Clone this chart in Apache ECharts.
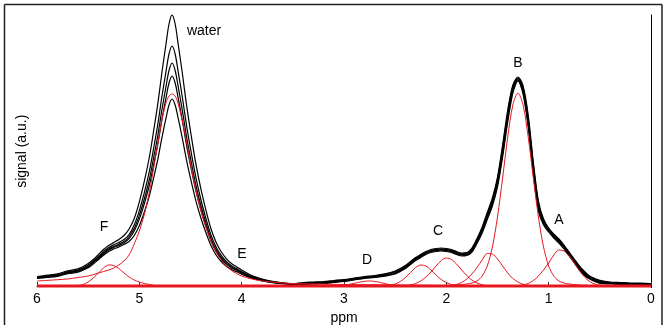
<!DOCTYPE html>
<html><head><meta charset="utf-8">
<script src="https://cdn.jsdelivr.net/npm/echarts@6/dist/echarts.min.js"></script>
<style>html,body{margin:0;padding:0;background:#fff}#c{width:665px;height:325px}</style>
</head><body><div id="c"></div>
<script>
// x positions (ppm) shared by the five measured spectra
const ppm = [6.0,5.9,5.8,5.7,5.6,5.5,5.45,5.4,5.35,5.3,5.25,5.2,5.15,5.1,5.05,5.0,4.95,4.9,4.86,4.82,4.78,4.74,4.71,4.68,4.65,4.62,4.58,4.54,4.5,4.45,4.4,4.35,4.3,4.25,4.2,4.15,4.1,4.05,4.0,3.9,3.8,3.7,3.6,3.5,3.4,3.3,3.2,3.1,3.0,2.9,2.8,2.7,2.6,2.5,2.45,2.4,2.35,2.3,2.25,2.2,2.15,2.1,2.05,2.0,1.95,1.9,1.85,1.8,1.75,1.7,1.65,1.6,1.55,1.5,1.45,1.4,1.35,1.3,1.25,1.2,1.15,1.1,1.05,1.0,0.95,0.9,0.85,0.8,0.75,0.7,0.65,0.6,0.55,0.5,0.4,0.3,0.2,0.1,0.0];

// measured spectra (black)
const spectrum1 = [9.5,10.8,12.1,15.2,17.1,22.5,26.5,31.5,36.5,40.5,43.5,46.5,50.5,57,67.5,84.2,105.3,130,155.3,181.9,213,241.5,262,271,262,241.5,213,181.9,154.8,123.6,97.9,76.2,57.2,43.7,34.2,27.4,22.5,19.3,16.1,10.4,7,4.6,3.2,2.2,
 3.5,4,4.5,5.5,6.5,8,9.5,10.5,12.2,15,17.5,20.5,24.5,28.5,31.5,34.5,36.5,37.5,38,37.5,36.5,34.5,33,33.5,38,47.5,59,73.5,88,109,141,176,201,209,200,171,124,85,67,58,52,47,41,34,27,20,14.5,10,7.5,5.7,4,3.5,3,2.8,2.5];
const spectrum2 = [8.8,10,11.2,14.2,15.9,21,25,29.5,34.5,38.5,41.2,43.5,46.5,51.5,61,75.4,93.8,115.6,137.9,161.4,189,214.2,232,240,232,214.2,189,161.4,137.4,109.8,87,67.8,51,39,30.6,24.6,20.3,17.4,14.5,9.4,6.3,4.1,2.9,2.0,
 3,3.5,4,5,6,7.5,9,10,11.6,14.2,16.7,19.7,23.7,27.7,30.7,33.7,35.7,36.7,37.2,36.7,35.7,33.7,32.2,32.7,37,46.2,57.5,71.7,86,106.5,138,173,199,208,198,168,121,82.5,65.5,57,51,46,40,33,26,19,13.5,9.2,6.7,4.9,3.5,3,2.5,2.3,2];
const spectrum3 = [8.4,9.5,10.7,13.6,15.2,20,24,28.5,33,37,39.5,41.8,44.5,49.5,57.5,70.6,87.5,107.7,128.4,150.2,175.8,199.2,215.5,223,215.5,199.2,175.8,150.2,127.9,102.2,81,63.2,47.6,36.5,28.6,23.1,19.1,16.4,13.7,8.9,5.9,3.8,2.7,1.9,
 2.5,3,3.5,4.5,5.5,7,8.5,9.5,11,13.5,16,19,23,27,30,33,35,36,36.5,36,35,33,31.5,32,36,45,56,70,84,104,135,170,197,207,196,165,118,80,64,56,50,45,39,32,25,18,12.5,8.5,6,4.2,3,2.5,2,1.8,1.5];
const spectrum4 = [8.0,9.2,10.3,13.1,14.7,19.3,23.2,27.6,32,36,38.5,40.6,43.3,47.5,55,66.9,82.7,101.7,121.1,141.6,165.8,187.8,203,210,203,187.8,165.8,141.6,120.6,96.5,76.5,59.7,45,34.5,27.2,21.9,18.1,15.6,13,8.4,5.6,3.7,2.6,1.8,
 2,2.5,3,4,5,6.5,8,9,10.4,12.8,15.3,18.3,22.3,26.3,29.3,32.3,34.3,35.3,35.8,35.3,34.3,32.3,30.8,31.3,35,43.8,54.5,68.3,82,101.5,132,167,195,206,194,162,115,77.5,62.5,55,49,44,38,31,24,17,11.5,7.8,5.3,3.5,2.5,2,1.5,1.3,1];
const spectrum5 = [7.5,8.5,9.6,12.4,13.8,18.2,22,26.3,30.7,34.5,37,39,41.5,44.5,50.5,60.3,74.2,91,108.2,126.4,147.9,167.6,181,187,181,167.6,147.9,126.4,107.7,86.2,68.5,53.5,40.4,31,24.5,19.8,16.5,14.2,11.9,7.7,5.1,3.3,2.4,1.6,
 1.5,2,2.5,3.5,4.5,6,7.5,8.5,9.8,12,14.5,17.5,21.5,25.5,28.5,31.5,33.5,34.5,35,34.5,33.5,31.5,30,30.5,34,42.5,53,66.5,80,99,129,164,193,205,192,159,112,75,61,54,48,43,37,30,23,16,10.5,7,4.5,2.7,2,1.5,1,0.8,0.5];

// fitted components (red)
const waterX = [6.0,5.9,5.8,5.7,5.6,5.5,5.4,5.35,5.3,5.25,5.2,5.15,5.1,5.05,5.0,4.95,4.9,4.86,4.82,4.78,4.74,4.71,4.68,4.65,4.62,4.58,4.54,4.5,4.45,4.4,4.35,4.3,4.25,4.2,4.15,4.1,4.05,4.0,3.9,3.8,3.7,3.6,3.5,3.3,3.0,2.5,2.0,1.0,0.0];
const waterY = [5,5.6,6.3,7,8.5,10,13,14.5,16,18,21,25,31,42,55,72,95,118,142,166,183,190,192,190,182,165,145,122,97,76,59,45,34,26,20,15.5,12.5,10,7,5,4,3,2.5,2,1.5,1,0.5,0.2,0];
const peakFX = [5.65,5.6,5.55,5.5,5.45,5.4,5.35,5.3,5.25,5.2,5.15,5.1,5.05,5.0,4.95,4.9,4.85,4.8];
const peakFY = [0,0.5,1.5,4,8,13,18,21,20.5,17.5,13,9,6,4,2.5,1.5,0.5,0];
const peakDX = [3.1,3.05,3.0,2.95,2.9,2.85,2.8,2.75,2.7,2.65,2.6,2.55,2.5,2.45,2.4];
const peakDY = [0,0.3,0.8,1.6,2.7,3.8,4.7,5,4.6,3.6,2.4,1.3,0.6,0.2,0];
const peakC1X = [2.65,2.6,2.55,2.5,2.45,2.4,2.35,2.3,2.25,2.2,2.15,2.1,2.05,2.0,1.95,1.9,1.85,1.8];
const peakC1Y = [0,0.3,0.9,2,4.5,8.5,13.5,18.5,21,20,16,11,6.5,3.5,1.5,0.6,0.2,0];
const peakC2X = [2.45,2.4,2.35,2.3,2.25,2.2,2.15,2.1,2.05,2.0,1.95,1.9,1.85,1.8,1.75,1.7,1.65,1.6,1.55];
const peakC2Y = [0,0.4,1,2.5,5,9,14,20,25.5,28,26.5,22,16,10.5,6,3,1.2,0.4,0];
const peakB2X = [2.0,1.95,1.9,1.85,1.8,1.75,1.7,1.65,1.6,1.55,1.5,1.45,1.4,1.35,1.3,1.25,1.2,1.15,1.1];
const peakB2Y = [0,0.5,1.5,3.5,7,12,18.5,26,32.5,32,27,20,13,7.5,4,1.8,0.7,0.2,0];
const peakBX = [2.2,2.0,1.9,1.8,1.75,1.7,1.65,1.6,1.55,1.5,1.45,1.4,1.35,1.3,1.25,1.2,1.15,1.1,1.05,1.0,0.95,0.9,0.85,0.8,0.7,0.6,0.4];
const peakBY = [0,0.5,1,2,3,5,10,20,39,69,108,149,181,193,181,149,108,69,39,20,10,5,3,2,1,0.5,0];
const peakAX = [1.35,1.3,1.25,1.2,1.15,1.1,1.05,1.0,0.95,0.9,0.85,0.8,0.75,0.7,0.65,0.6,0.55,0.5,0.45,0.4];
const peakAY = [0,0.3,1,2.5,5.5,10,16,23,31,36,35,30,23,15.5,9,4.5,2,0.8,0.3,0];
const baseX = [6, 0];
const baseY = [0, 0];

const xTicks = [6, 5, 4, 3, 2, 1, 0];

const FONT = '"Liberation Sans", Arial, Helvetica, sans-serif';
const BLACK = '#000000';
const RED = '#e8161e';
function pairs(xs, ys) { return xs.map((x, i) => [x, ys[i]]); }

const series = [];
[spectrum1, spectrum2, spectrum3, spectrum4, spectrum5].forEach(ys => {
  series.push({type: 'line', data: pairs(ppm, ys), showSymbol: false, smooth: 0.3,
    lineStyle: {color: BLACK, width: 1.2}, clip: false, silent: true, z: 2});
});
[[waterX, waterY], [peakFX, peakFY], [peakDX, peakDY], [peakC1X, peakC1Y], [peakC2X, peakC2Y],
 [peakB2X, peakB2Y], [peakBX, peakBY], [peakAX, peakAY]].forEach(([xs, ys]) => {
  series.push({type: 'line', data: pairs(xs, ys), showSymbol: false, smooth: 0.3,
    lineStyle: {color: RED, width: 1}, clip: false, silent: true, z: 3});
});
series.push({type: 'line', data: pairs(baseX, baseY), showSymbol: false,
  lineStyle: {color: RED, width: 3}, clip: false, silent: true, z: 4});

function label(text, x, y) {
  return {type: 'text', x: x, y: y, silent: true, z: 10,
    style: {text: text, fill: '#000', font: '14px ' + FONT, align: 'center', verticalAlign: 'middle'}};
}
function frameLine(x1, y1, x2, y2) {
  return {type: 'line', silent: true, z: 0, shape: {x1: x1, y1: y1, x2: x2, y2: y2},
    style: {stroke: '#222', lineWidth: 1.5}};
}

const chart = echarts.init(document.getElementById('c'), null, {renderer: 'canvas'});
chart.setOption({
  animation: false,
  backgroundColor: '#ffffff',
  grid: {left: 37, right: 14, top: 15, bottom: 37.5, containLabel: false, outerBoundsMode: 'none'},
  xAxis: {
    type: 'value', inverse: true, min: 0, max: 6, interval: 1,
    axisLine: {show: true, onZero: true, lineStyle: {color: '#000', width: 1}},
    axisTick: {show: true, inside: true, length: 4, lineStyle: {color: '#333'}},
    axisLabel: {fontSize: 14, color: '#000', fontFamily: FONT, margin: 5,
      formatter: v => (xTicks.indexOf(v) >= 0 ? String(v) : '')},
    splitLine: {show: false},
    name: 'ppm', nameLocation: 'middle', nameGap: 10,
    nameTextStyle: {fontSize: 14, color: '#000', fontFamily: FONT}
  },
  yAxis: {
    type: 'value', min: -1.5, max: 271,
    axisLine: {show: true, lineStyle: {color: '#000', width: 1}},
    axisTick: {show: false}, axisLabel: {show: false}, splitLine: {show: false},
    name: 'signal (a.u.)', nameLocation: 'middle', nameGap: 8,
    nameTextStyle: {fontSize: 14, color: '#000', fontFamily: FONT}
  },
  graphic: [
    frameLine(4.5, 4.5, 662, 4.5),
    frameLine(4.5, 4.5, 4.5, 330),
    frameLine(662, 4.5, 662, 330),
    label('water', 204, 31),
    label('B', 518, 63),
    label('A', 559, 220),
    label('C', 438, 231),
    label('D', 367, 260),
    label('E', 242, 254),
    label('F', 104, 227)
  ],
  series: series
});
</script>
</body></html>
